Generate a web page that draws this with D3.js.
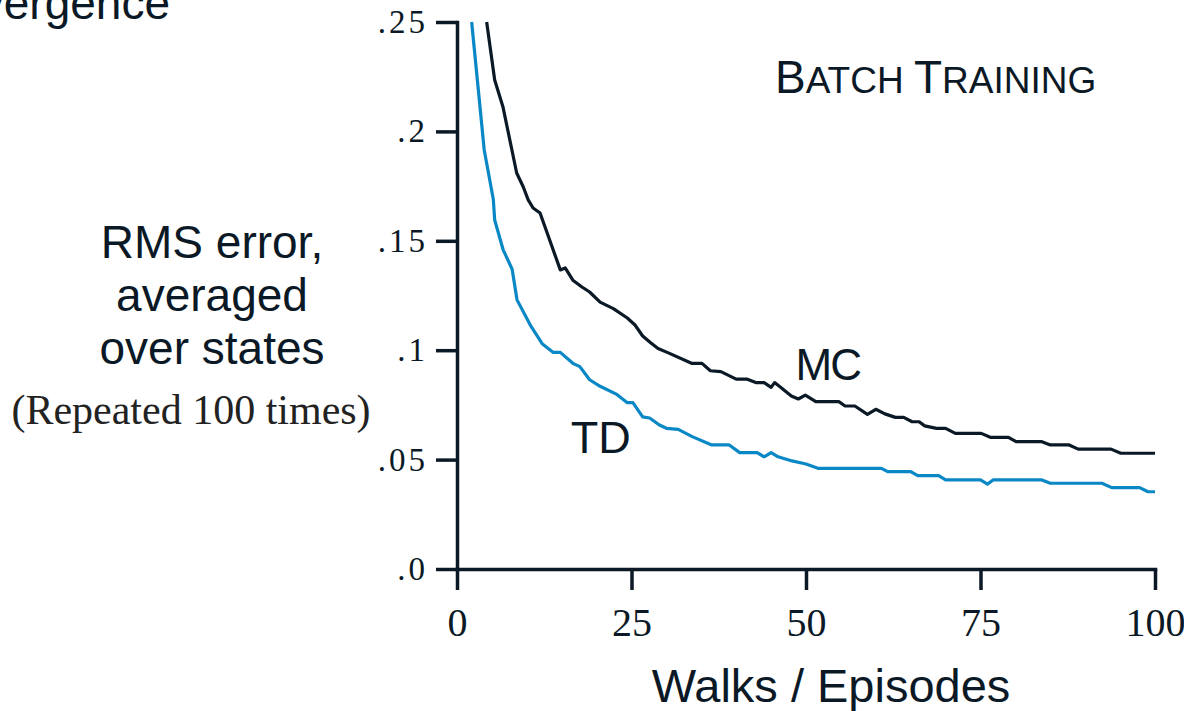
<!DOCTYPE html>
<html>
<head>
<meta charset="utf-8">
<script src="https://cdn.jsdelivr.net/npm/d3@7"></script>
<style>
  body { margin: 0; background: #fff; }
  .tick text { fill: #0b1926; }
</style>
</head>
<body>
<div id="chart"></div>
<script>
var svgWidth = 1184;
var svgHeight = 711;

var margin = { top: 22, right: 29, bottom: 142, left: 457 };
var width = svgWidth - margin.left - margin.right;
var height = svgHeight - margin.top - margin.bottom;

// episodes / RMS error
var tdEpisodes = [2.1, 3.9, 5.2, 5.4, 6.6, 7.9, 8.6, 10.5, 12.2, 13.8, 14.8, 16.6, 17.6, 19, 20.5, 22.9, 24.4, 25.2, 26.6, 27.6, 29, 30, 31.7, 33.7, 36.5, 39, 40.5, 43, 44, 45, 46, 48, 50, 51.7, 60.8, 61.7, 65, 66, 69, 70, 75, 76, 76.8, 83.8, 85, 92.4, 93.8, 97.8, 99, 100];
var tdError = [.25, .1915, .169, .1595, .146, .137, .123, .1115, .103, .099, .099, .094, .0925, .0865, .0835, .0798, .076, .076, .0695, .069, .0658, .0643, .0638, .0605, .0567, .0567, .0532, .0532, .0513, .0532, .0513, .0494, .048, .046, .046, .0445, .0445, .0427, .0427, .0407, .0407, .0388, .0407, .0407, .0392, .0392, .0372, .0372, .0353, .0353];

var mcEpisodes = [4.25, 5.4, 6.6, 8.55, 9.5, 10.2, 10.9, 11.9, 14.8, 15.5, 16.6, 17.9, 19, 20.5, 22.4, 24.4, 25.5, 26.6, 27.7, 28.8, 30.2, 33.6, 35.1, 36.3, 37.8, 40, 41.5, 42.8, 44, 45, 45.5, 46.4, 47.9, 48.9, 49.9, 51.4, 54.7, 55.6, 57, 58.8, 60, 61.3, 62.8, 64, 65.2, 66.2, 67, 68.7, 70, 71.4, 75.1, 76.4, 79, 80.1, 83.8, 85, 87.7, 89, 93.7, 95.1, 100];
var mcError = [.25, .2235, .211, .181, .1746, .1687, .165, .1627, .1367, .1376, .132, .1289, .1266, .122, .119, .1147, .1115, .1065, .1035, .1008, .0989, .094, .094, .0906, .0902, .0868, .0868, .0852, .0852, .083, .0852, .083, .0791, .0777, .0795, .0765, .0765, .0745, .0745, .0707, .073, .0709, .0693, .0693, .0673, .0673, .0654, .0643, .0643, .062, .062, .0602, .0602, .0582, .0582, .0567, .0567, .0548, .0548, .0529, .0529];

var xTicks = [0, 25, 50, 75, 100];
var yTicks = [0, .05, .1, .15, .2, .25];
var yTickLabels = [".0", ".05", ".1", ".15", ".2", ".25"];

var ink = "#0b1926";
var tdColor = "#0a88c6";

var svg = d3.select("#chart")
  .append("svg")
  .attr("width", svgWidth)
  .attr("height", svgHeight);

var chartGroup = svg.append("g")
  .attr("transform", `translate(${margin.left}, ${margin.top})`);

var xScale = d3.scaleLinear().domain([0, 100]).range([0, width]);
var yScale = d3.scaleLinear().domain([0, .25]).range([height, 0]);

// axes
var yAxis = d3.axisLeft(yScale)
  .tickValues(yTicks)
  .tickSize(21)
  .tickSizeOuter(0)
  .tickPadding(10)
  .tickFormat((d, i) => yTickLabels[i]);

var xAxis = d3.axisBottom(xScale)
  .tickValues(xTicks)
  .tickSize(21)
  .tickSizeOuter(0)
  .tickPadding(18)
  .tickFormat(d3.format("d"));

var gy = chartGroup.append("g").call(yAxis);
var gx = chartGroup.append("g")
  .attr("transform", `translate(0, ${height})`)
  .call(xAxis);

[gx, gy].forEach(function(g) {
  g.select(".domain").attr("stroke", ink).attr("stroke-width", 3.5).attr("stroke-linecap", "square");
  g.selectAll(".tick line").attr("stroke", ink).attr("stroke-width", 3.5);
});

gy.selectAll(".tick text")
  .attr("font-family", "'Liberation Serif', 'Times New Roman', serif")
  .attr("font-size", 33)
  .attr("letter-spacing", 3)
  .attr("x", -29);

gx.selectAll(".tick text")
  .attr("font-family", "'Liberation Serif', 'Times New Roman', serif")
  .attr("font-size", 40);

// lines
var tdData = tdEpisodes.map((e, i) => ({ ep: e, err: tdError[i] }));
var mcData = mcEpisodes.map((e, i) => ({ ep: e, err: mcError[i] }));

var line = d3.line()
  .x(d => xScale(d.ep))
  .y(d => yScale(d.err));

chartGroup.append("path")
  .datum(mcData)
  .attr("d", line)
  .attr("fill", "none")
  .attr("stroke", ink)
  .attr("stroke-width", 3.2)
  .attr("stroke-linejoin", "round");

chartGroup.append("path")
  .datum(tdData)
  .attr("d", line)
  .attr("fill", "none")
  .attr("stroke", tdColor)
  .attr("stroke-width", 3.2)
  .attr("stroke-linejoin", "round");

// labels
var sans = "'Liberation Sans', Arial, Helvetica, sans-serif";
var serif = "'Liberation Serif', 'Times New Roman', serif";

chartGroup.append("text")
  .attr("x", xScale(48.5))
  .attr("y", yScale(.0865))
  .attr("font-family", sans)
  .attr("font-size", 44)
  .attr("letter-spacing", -2)
  .attr("fill", ink)
  .text("MC");

chartGroup.append("text")
  .attr("x", xScale(16.3))
  .attr("y", yScale(.053))
  .attr("font-family", sans)
  .attr("font-size", 45)
  .attr("fill", ink)
  .text("TD");

var title = svg.append("text")
  .attr("x", 775)
  .attr("y", 93)
  .attr("font-family", sans)
  .attr("fill", ink);
title.append("tspan").attr("font-size", 46).text("B");
title.append("tspan").attr("font-size", 37).text("ATCH ");
title.append("tspan").attr("font-size", 46).text("T");
title.append("tspan").attr("font-size", 37).text("RAINING");

svg.append("text")
  .attr("x", 170)
  .attr("y", 19)
  .attr("text-anchor", "end")
  .attr("font-family", sans)
  .attr("font-size", 46)
  .attr("fill", ink)
  .text("Convergence");

var yLabel = svg.append("text")
  .attr("text-anchor", "middle")
  .attr("font-family", sans)
  .attr("font-size", 46)
  .attr("fill", ink);
["RMS error,", "averaged", "over states"].forEach(function(t, i) {
  yLabel.append("tspan").attr("x", 212).attr("y", 258 + i * 53).text(t);
});

svg.append("text")
  .attr("x", 191)
  .attr("y", 424)
  .attr("text-anchor", "middle")
  .attr("font-family", serif)
  .attr("font-size", 42)
  .attr("fill", "#222")
  .text("(Repeated 100 times)");

svg.append("text")
  .attr("x", 831)
  .attr("y", 702)
  .attr("text-anchor", "middle")
  .attr("font-family", sans)
  .attr("font-size", 47)
  .attr("fill", ink)
  .text("Walks / Episodes");
</script>
</body>
</html>
